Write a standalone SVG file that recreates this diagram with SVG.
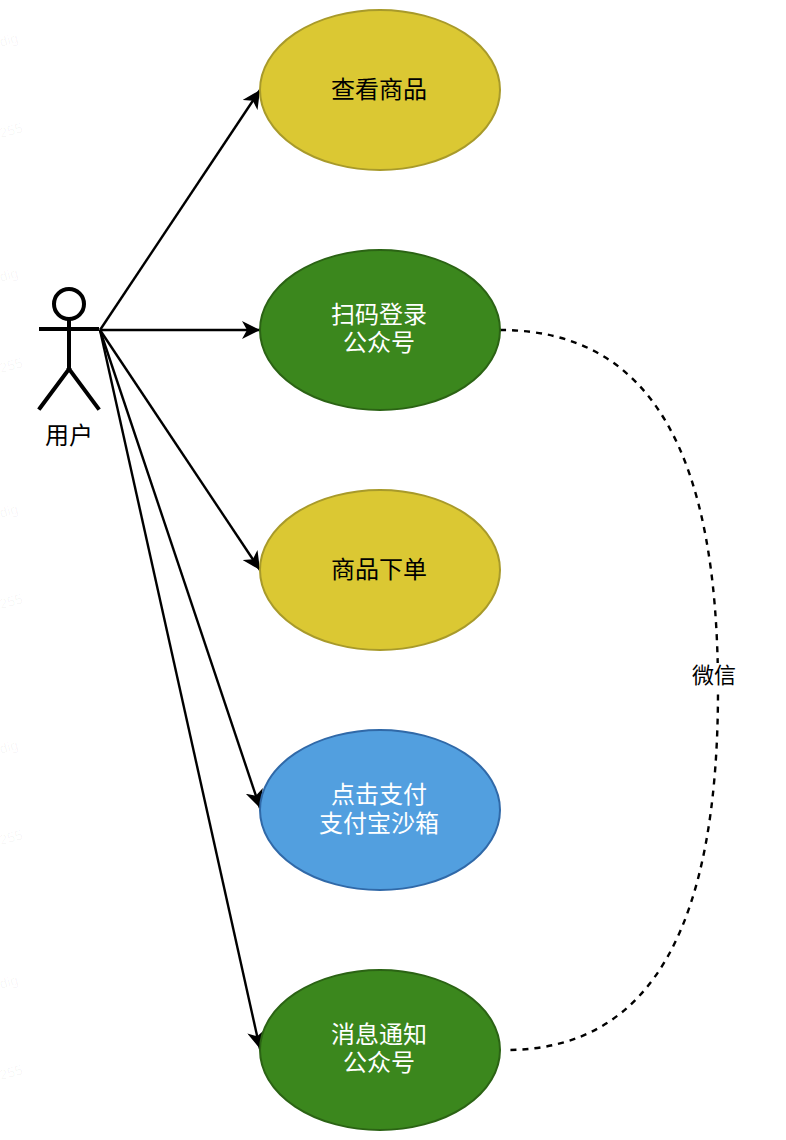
<svg xmlns="http://www.w3.org/2000/svg" width="786" height="1140" viewBox="0 0 786 1140">
<style>
text{font-family:"Liberation Sans","Noto Sans CJK SC",sans-serif;font-size:24px;text-anchor:middle}
.w{fill:#fff}.k{fill:#000}
text.wm{fill:#000;fill-opacity:.04;font-size:14px;text-anchor:start}
.y{fill:#dbc833;stroke:#a89a2a;stroke-width:2}
.g{fill:#3b871d;stroke:#2b6314;stroke-width:2}
.b{fill:#529fdf;stroke:#3069a8;stroke-width:2}
.c{fill:none;stroke:#000;stroke-width:2.4}
.a{stroke-width:4;stroke-linecap:square}
</style>
<defs><marker id="arr" viewBox="0 0 18 18" refX="18" refY="9" markerWidth="18" markerHeight="18" markerUnits="userSpaceOnUse" orient="auto"><path d="M0 0L18 9L0 18L5 9Z" fill="#000"/></marker></defs>
<g id="watermark">
<text class="wm" transform="translate(1 47) rotate(-15)">dig</text>
<text class="wm" transform="translate(1 138) rotate(-15)">255</text>
<text class="wm" transform="translate(1 282) rotate(-15)">dig</text>
<text class="wm" transform="translate(1 373) rotate(-15)">255</text>
<text class="wm" transform="translate(1 518) rotate(-15)">dig</text>
<text class="wm" transform="translate(1 609) rotate(-15)">255</text>
<text class="wm" transform="translate(1 754) rotate(-15)">dig</text>
<text class="wm" transform="translate(1 845) rotate(-15)">255</text>
<text class="wm" transform="translate(1 989) rotate(-15)">dig</text>
<text class="wm" transform="translate(1 1080) rotate(-15)">255</text>
</g>
<g id="connectors">
<path class="c" d="M100 330L260 90" marker-end="url(#arr)"/>
<path class="c" d="M100 330L260 330" marker-end="url(#arr)"/>
<path class="c" d="M100 330L260 570" marker-end="url(#arr)"/>
<path class="c" d="M100 330L260 808" marker-end="url(#arr)"/>
<path class="c" d="M100 330L260 1049" marker-end="url(#arr)"/>
<path class="c" stroke-dasharray="6 6" d="M500 330C655 330 718 460 718 690C718 920 655 1050 506 1050"/>
</g>
<g id="actor">
<circle class="c a" cx="69" cy="304" r="15"/>
<path class="c a" d="M69 319V369M41 329H97M69 369L40 408M69 369L98 408"/>
<text class="k" x="69" y="444">用户</text>
</g>
<g id="n1"><ellipse class="y" cx="380" cy="90" rx="120" ry="80"/><text class="k" x="379" y="98">查看商品</text></g>
<g id="n2"><ellipse class="g" cx="380" cy="330" rx="120" ry="80"/><text class="w" x="379" y="323">扫码登录</text><text class="w" x="379" y="351">公众号</text></g>
<g id="n3"><ellipse class="y" cx="380" cy="570" rx="120" ry="80"/><text class="k" x="379" y="578">商品下单</text></g>
<g id="n4"><ellipse class="b" cx="380" cy="810" rx="120" ry="80"/><text class="w" x="379" y="803">点击支付</text><text class="w" x="379" y="832">支付宝沙箱</text></g>
<g id="n5"><ellipse class="g" cx="380" cy="1050" rx="120" ry="80"/><text class="w" x="379" y="1043">消息通知</text><text class="w" x="379" y="1071">公众号</text></g>
<g id="edge-label"><rect x="692" y="663" width="44" height="26" fill="#fff"/><text class="k" x="714" y="683" style="font-size:22px">微信</text></g>
</svg>
